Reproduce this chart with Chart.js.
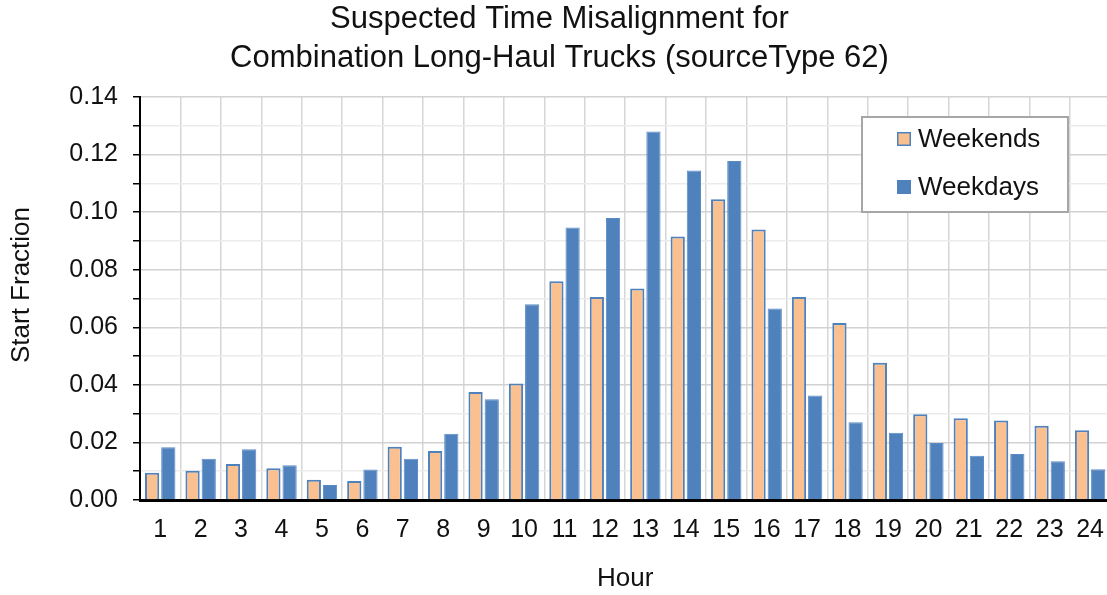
<!DOCTYPE html>
<html>
<head>
<meta charset="utf-8">
<script src="https://cdn.jsdelivr.net/npm/chart.js@4.4.1/dist/chart.umd.min.js"></script>
<style>
  html, body { margin: 0; padding: 0; background: #fff; overflow: hidden; }
  #wrap { width: 1119px; height: 595px; }
</style>
</head>
<body>
<div id="wrap"><canvas id="c" width="1119" height="595"></canvas></div>
<script>
const titleLines = ['Suspected Time Misalignment for', 'Combination Long-Haul Trucks (sourceType 62)'];
const hours = ['1','2','3','4','5','6','7','8','9','10','11','12','13','14','15','16','17','18','19','20','21','22','23','24'];
const weekends = [0.0095,0.0102,0.0125,0.0110,0.0070,0.0066,0.0185,0.0170,0.0375,0.0405,0.0760,0.0705,0.0735,0.0915,0.1045,0.0940,0.0705,0.0615,0.0477,0.0298,0.0284,0.0276,0.0258,0.0242];
const weekdays = [0.0183,0.0143,0.0176,0.0121,0.0052,0.0106,0.0143,0.0230,0.0350,0.0680,0.0947,0.0980,0.1280,0.1145,0.1178,0.0665,0.0363,0.0270,0.0234,0.0198,0.0154,0.0160,0.0135,0.0107];
const yMin = 0, yMax = 0.14, yStep = 0.01;
const seriesNames = ['Weekends', 'Weekdays'];
const xTitle = 'Hour', yTitle = 'Start Fraction';

const FONT = "'Liberation Sans', Arial, sans-serif";

const boxLegend = {
  id: 'boxLegend',
  afterDatasetsDraw(chart) {
    const ctx = chart.ctx;
    const x0 = 862, y0 = 117, w = 206, h = 95;
    ctx.save();
    ctx.fillStyle = '#fff';
    ctx.fillRect(x0, y0, w, h);
    ctx.strokeStyle = '#a6a6a6';
    ctx.lineWidth = 2;
    ctx.strokeRect(x0, y0, w, h);
    ctx.font = '26px ' + FONT;
    ctx.textBaseline = 'middle';
    ctx.textAlign = 'left';
    chart.data.datasets.forEach((ds, i) => {
      const cy = 139 + i * 48;
      ctx.fillStyle = ds.backgroundColor;
      ctx.fillRect(897, cy - 7, 14, 14);
      if (i === 0) {
        ctx.strokeStyle = ds.borderColor;
        ctx.lineWidth = 1.5;
        ctx.strokeRect(897.75, cy - 6.25, 12.5, 12.5);
      }
      ctx.fillStyle = '#111';
      ctx.fillText(ds.label, 918, cy + 1);
    });
    ctx.restore();
  }
};

const yAxisTitle = {
  id: 'yAxisTitle',
  afterDraw(chart) {
    const ctx = chart.ctx;
    ctx.save();
    ctx.translate(22, 285);
    ctx.rotate(-Math.PI / 2);
    ctx.font = '26px ' + FONT;
    ctx.fillStyle = '#111';
    ctx.textAlign = 'center';
    ctx.textBaseline = 'middle';
    ctx.fillText(yTitle, 0, 0);
    ctx.restore();
  }
};

new Chart(document.getElementById('c'), {
  type: 'bar',
  data: {
    labels: hours,
    datasets: [
      { label: seriesNames[0], data: weekends, backgroundColor: '#FAC090', borderColor: '#4F81BD', borderWidth: 2,
        categoryPercentage: 0.8, barPercentage: 0.88 },
      { label: seriesNames[1], data: weekdays, backgroundColor: '#4F81BD', borderColor: '#5B8BC5', borderWidth: 1,
        categoryPercentage: 0.8, barPercentage: 0.88 }
    ]
  },
  options: {
    responsive: false,
    animation: false,
    devicePixelRatio: 1,
    layout: { padding: { left: 0, right: 0, top: 0, bottom: 0 } },
    plugins: {
      legend: { display: false },
      tooltip: { enabled: false },
      title: {
        display: true,
        text: titleLines,
        color: '#111',
        font: { family: FONT, size: 31, weight: 'normal', lineHeight: 1.25 },
        padding: { top: 0, bottom: 19.5 }
      }
    },
    scales: {
      x: {
        grid: { display: true, offset: true, color: '#d6d6d6', lineWidth: 1.5, drawTicks: false },
        border: { display: true, color: '#000', width: 3 },
        ticks: { color: '#111', font: { family: FONT, size: 25 }, padding: 15, autoSkip: false, maxRotation: 0 },
        title: { display: true, text: xTitle, color: '#111', font: { family: FONT, size: 26 }, padding: { top: 0, bottom: 1 } },
        afterFit(scale) { scale.height = 95; }
      },
      y: {
        min: yMin, max: yMax,
        grid: {
          color: (c) => (Math.round(c.tick.value * 100) % 2 === 0 ? '#d2d2d2' : '#ebebeb'),
          lineWidth: 1.5,
          tickColor: '#000',
          tickLength: 7,
          tickWidth: 1.5
        },
        border: { display: true, color: '#000', width: 2 },
        ticks: {
          stepSize: yStep,
          autoSkip: false,
          color: '#111',
          padding: 15,
          font: { family: FONT, size: 25 },
          callback: (v) => (Math.round(v * 100) % 2 === 0 ? v.toFixed(2) : '')
        },
        title: { display: false, text: yTitle },
        afterFit(scale) { scale.width = 140; }
      }
    }
  },
  plugins: [boxLegend, yAxisTitle]
});
</script>
</body>
</html>
